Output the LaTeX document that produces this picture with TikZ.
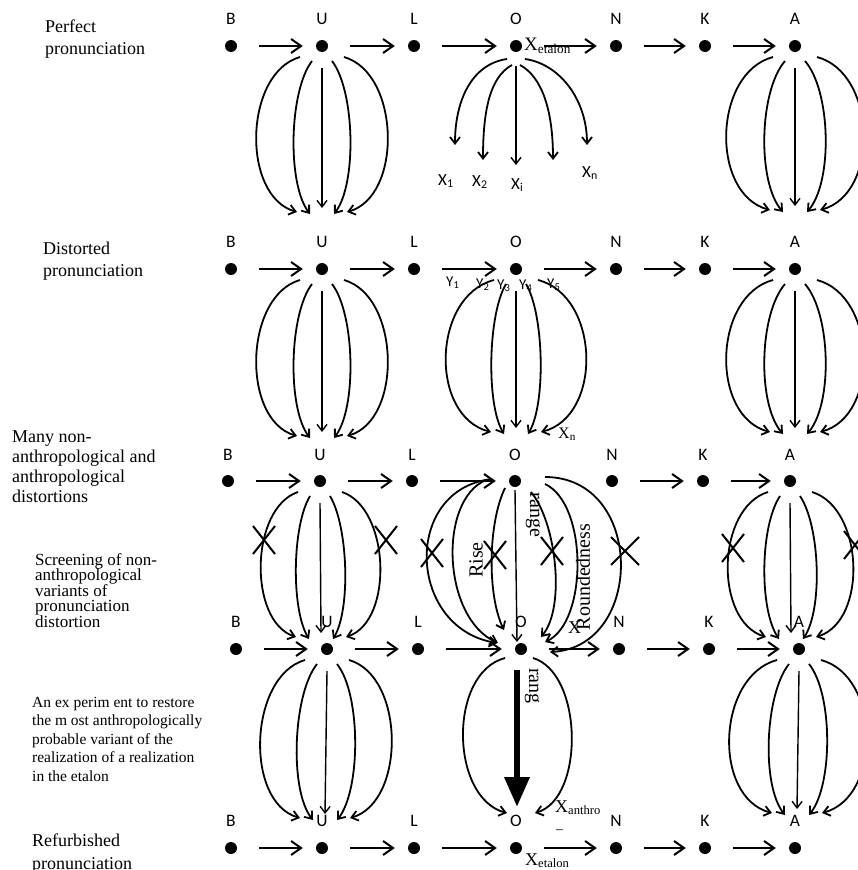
\documentclass[tikz,border=0pt]{standalone}
\usepackage{fontspec}
\setmainfont{Liberation Serif}
\newfontfamily\lblfont{Carlito}
\usepackage{tikz}
\usetikzlibrary{positioning,arrows.meta,shapes.misc}

\tikzset{
  dot/.style={circle, fill=black, inner sep=0pt, minimum size=12pt},
  lbl/.style={font=\lblfont\fontsize{17.5}{17.5}\selectfont, inner sep=0pt},
  ylbl/.style={font=\lblfont\fontsize{15}{15}\selectfont, inner sep=0pt, anchor=base west},
  tms/.style={font=\fontsize{18}{18}\selectfont, inner sep=0pt, anchor=base west},
  hop/.style={-{Straight Barb[length=10pt,width=14pt]}, line width=2pt, shorten <=22pt, shorten >=13pt},
  curl/.style={-{Straight Barb[length=6.5pt,width=10pt]}, line width=1.8pt},
  stem/.style={curl, line width=1.4pt},
  nope/.style={cross out, draw, line width=2pt, minimum width=20pt, minimum height=26pt, inner sep=0pt},
  note/.style={align=left, anchor=north west, inner sep=0pt},
  turned/.style={font=\fontsize{20}{20}\selectfont, inner sep=0pt}
}

% five arrows hanging from a dot: top node, end point, outer bulge, inner bulge
\newcommand{\fanbundle}[4]{%
  \draw[curl] ([shift={(-22,11)}]#1.center) .. controls +(-#3,16) and +(-#3,-16) .. ([shift={(-25,-2)}]#2);
  \draw[curl] ([shift={(-10,15)}]#1.center) .. controls +(-#4,30) and +(-#4,-30) .. ([shift={(-12,0)}]#2);
  \draw[stem] ([shift={(0,22)}]#1.center) -- ([shift={(0,-6)}]#2);
  \draw[curl] ([shift={(10,15)}]#1.center) .. controls +(#4,30) and +(#4,-30) .. ([shift={(12,0)}]#2);
  \draw[curl] ([shift={(22,11)}]#1.center) .. controls +(#3,16) and +(#3,-16) .. ([shift={(25,-2)}]#2);
}

\begin{document}
\begin{tikzpicture}[x=1pt, y=-1pt]
  \useasboundingbox (0,0) rectangle (858,870);

  % left column texts
  \node[note, font=\fontsize{18}{22}\selectfont] (perfect) at (45,20) {Perfect\\pronunciation};
  \node[note, font=\fontsize{18}{22}\selectfont] (distorted) at (43,242) {Distorted\\pronunciation};
  \node[note, font=\fontsize{18}{20}\selectfont] (many) at (12,431) {Many non-\\anthropological and\\anthropological\\distortions};
  \node[note, font={\fontsize{17}{15.5}\selectfont\lineskiplimit=-30pt}] (screening) at (35,553) {Screening of non-\\anthropological\\variants of\\pronunciation\\distortion};
  \node[note, font=\fontsize{15.5}{18.5}\selectfont] (experiment) at (32,697) {An ex perim ent to restore\\the m ost anthropologically\\probable variant of the\\realization of a realization\\in the etalon};
  \node[note, font=\fontsize{18}{23}\selectfont] (refurbished) at (32,834) {Refurbished\\pronunciation};

  % dots with their letters
  \foreach \r/\yy in {1/46,2/269,5/848}{
    \foreach \ltr/\xx in {B/231,U/322,L/414,O/516,N/616,K/705,A/795}{
      \node[dot] (\ltr\r) at (\xx,\yy) {};
      \node[lbl, above=15pt of \ltr\r] (t\ltr\r) {\ltr};
    }
  }
  \foreach \ltr/\xx in {B/228,U/320,L/412,O/515,N/612,K/703,A/790}{
    \node[dot] (\ltr3) at (\xx,481) {};
    \node[lbl, above=14pt of \ltr3] (t\ltr3) {\ltr};
  }
  \foreach \ltr/\xx in {B/236,U/327,L/418,O/521,N/619,K/709,A/799}{
    \node[dot] (\ltr4) at (\xx,649) {};
    \node[lbl, above=15pt of \ltr4] (t\ltr4) {\ltr};
  }

  % arrows along each row
  \foreach \r in {1,2,4,5}{
    \foreach \pa/\pb in {B/U,U/L,L/O,O/N,N/K,K/A}
      \draw[hop] (\pa\r) -- (\pb\r);
  }
  \foreach \pa/\pb in {B/U,U/L,L/O,N/K,K/A}
    \draw[hop] (\pa3) -- (\pb3);

  % ends of the bundles
  \coordinate (U1e) at (322,214);
  \coordinate (A1e) at (795,212);
  \coordinate (U2e) at (322,438);
  \coordinate (O2e) at (516,434);
  \coordinate (A2e) at (795,434);
  \coordinate (U3e) at (321,639);
  \coordinate (A3e) at (791,639);
  \coordinate (U4e) at (325,820);
  \coordinate (O4e) at (520,815);
  \coordinate (A4e) at (797,815);

  \fanbundle{U1}{U1e}{56}{23}
  \fanbundle{A1}{A1e}{60}{26}
  \fanbundle{U2}{U2e}{56}{23}
  \fanbundle{O2}{O2e}{62}{18}
  \fanbundle{A2}{A2e}{60}{26}
  \fanbundle{U3}{U3e}{48}{18}
  \fanbundle{A3}{A3e}{52}{20}
  \fanbundle{U4}{U4e}{56}{24}
  \fanbundle{A4}{A4e}{60}{24}

  % perfect pronunciation: variants of O
  \coordinate (x1e) at (455,145);
  \coordinate (x2e) at (483,160);
  \coordinate (xie) at (516,165);
  \coordinate (x4e) at (553,160);
  \coordinate (xne) at (587,145);
  \draw[curl] ([shift={(-9,13)}]O1.center) .. controls +(-35,5) and +(0,-45) .. (x1e);
  \draw[curl] ([shift={(-4,19)}]O1.center) .. controls +(-22,12) and +(0,-50) .. (x2e);
  \draw[stem] ([shift={(0,20)}]O1.center) -- (xie);
  \draw[curl] ([shift={(4,19)}]O1.center) .. controls +(22,12) and +(0,-50) .. (x4e);
  \draw[curl] ([shift={(9,13)}]O1.center) .. controls +(35,5) and +(0,-45) .. (xne);
  \node[ylbl, font=\lblfont\fontsize{17}{17}\selectfont] (x1) at (438,185) {X\textsubscript{1}};
  \node[ylbl, font=\lblfont\fontsize{17}{17}\selectfont] (x2) at (472,186) {X\textsubscript{2}};
  \node[ylbl, font=\lblfont\fontsize{17}{17}\selectfont] (xi) at (511,189) {X\textsubscript{i}};
  \node[ylbl, font=\lblfont\fontsize{17}{17}\selectfont] (xn) at (582,177) {X\textsubscript{n}};
  \node[tms, font=\fontsize{19}{19}\selectfont] (xetalon1) at (524,50) {X\textsubscript{etalon}};

  % distorted pronunciation labels
  \node[ylbl] (y1) at (446,286) {Y\textsubscript{1}};
  \node[ylbl] (y2) at (476,288) {Y\textsubscript{2}};
  \node[ylbl] (y3) at (497,289) {Y\textsubscript{3}};
  \node[ylbl] (y4) at (519,289) {Y\textsubscript{4}};
  \node[ylbl] (y5) at (547,288) {Y\textsubscript{5}};
  \node[tms, font=\fontsize{16}{16}\selectfont] (xn2) at (558,438) {X\textsubscript{n}};

  % screening around O
  \coordinate (o3a) at (497,643);
  \coordinate (o3b) at (498,643);
  \coordinate (o3c) at (504,630);
  \coordinate (o3d) at (517,642);
  \coordinate (o3e) at (541,637);
  \coordinate (o3f) at (545,642);
  \coordinate (o3g) at (550,652);
  \draw[curl] ([shift={(-23,-2)}]O3.center) .. controls +(-90,10) and +(-90,-15) .. (o3a);
  \draw[curl] ([shift={(-29,-1)}]O3.center) .. controls +(-48,20) and +(-56,-25) .. (o3b);
  \draw[curl] ([shift={(-10,7)}]O3.center) .. controls +(-17,35) and +(-17,-35) .. (o3c);
  \draw[stem] ([shift={(0,9)}]O3.center) -- (o3d);
  \draw[curl] ([shift={(16,11)}]O3.center) .. controls +(25,30) and +(25,-30) .. (o3e);
  \draw[curl] ([shift={(30,3)}]O3.center) .. controls +(43,20) and +(43,-20) .. (o3f);
  \draw[curl] ([shift={(30,-4)}]O3.center) .. controls +(100,0) and +(95,-5) .. (o3g);
  \node[turned, rotate=90] (rise) at (476,560) {Rise};
  \node[turned, rotate=-90] (range) at (533,515) {range};
  \node[turned, rotate=90] (roundedness) at (583,577) {Roundedness};
  \node[tms] (x3) at (568,633) {X};

  % crossed out variants
  \node[nope] (cu1) at (264,540) {};
  \node[nope] (cu2) at (386,540) {};
  \node[nope] (co1) at (432,553) {};
  \node[nope] (co2) at (495,555) {};
  \node[nope] (co3) at (552,551) {};
  \node[nope, minimum width=26pt] (co4) at (625,551) {};
  \node[nope] (ca1) at (733,548) {};
  \node[nope] (ca2) at (855,545) {};

  % restoring the etalon
  \draw[curl] ([shift={(-16,9)}]O4.center) .. controls +(-57,15) and +(-57,-15) .. ([shift={(-13,-2)}]O4e);
  \draw[curl] ([shift={(12,9)}]O4.center) .. controls +(50,15) and +(50,-15) .. ([shift={(15,-2)}]O4e);
  \draw[-{Triangle[length=30pt,width=24pt]}, line width=6.5pt] ([shift={(-4,21)}]O4.center) -- ([shift={(-3,-8)}]O4e);
  \node[turned, rotate=-90] (rang) at (532,686) {rang};
  \node[tms] (xanthro) at (555,812) {X\textsubscript{anthro}};
  \node[tms, font=\fontsize{14}{14}\selectfont] (xdash) at (556,833) {--};
  \node[tms] (xetalon5) at (525,865) {X\textsubscript{etalon}};
\end{tikzpicture}
\end{document}
